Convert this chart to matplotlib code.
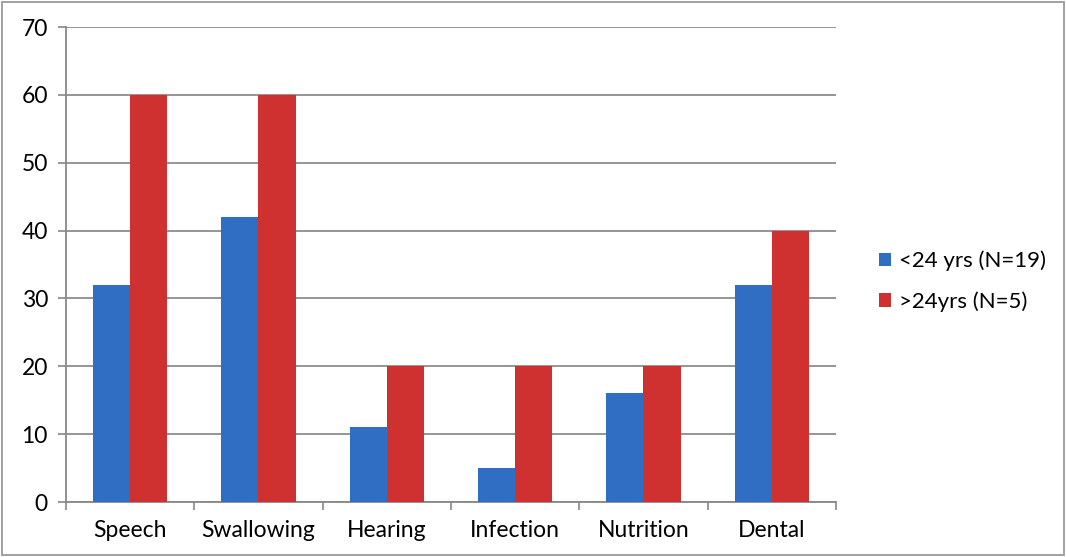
import numpy as np
import matplotlib.pyplot as plt
from matplotlib.patches import Rectangle

categories = ["Speech", "Swallowing", "Hearing", "Infection", "Nutrition", "Dental"]
under_24 = [32, 42, 11, 5, 16, 32]
over_24 = [60, 60, 20, 20, 20, 40]
series_labels = ["<24 yrs (N=19)", ">24yrs (N=5)"]
y_ticks = [0, 10, 20, 30, 40, 50, 60, 70]

plt.rcParams['font.family'] = ['Lato', 'DejaVu Sans']

fig = plt.figure(figsize=(10.66, 5.57), dpi=100)
ax = fig.add_axes([0.0619, 0.0987, 0.7223, 0.8528])

x = np.arange(len(categories))
w = 0.29
ax.bar(x - w / 2, under_24, w, color="#2f6ec3", label=series_labels[0], zorder=3)
ax.bar(x + w / 2, over_24, w, color="#cf3130", label=series_labels[1], zorder=3)

ax.set_xlim(-0.5, len(categories) - 0.5)
ax.set_ylim(0, 70)
ax.set_yticks(y_ticks)
ax.set_xticks(x)
ax.set_xticklabels(categories)
ax.tick_params(axis="x", length=0, pad=13, labelsize=16.5)
ax.tick_params(axis="y", length=6, width=1.2, color="#888888", pad=7, labelsize=16.5)

# category separators below the axis
ax.set_xticks(np.arange(-0.5, len(categories)), minor=True)
ax.tick_params(axis="x", which="minor", direction="out", length=6, width=1.2, color="#888888")

ax.grid(axis="y", color="#8c8c8c", linewidth=1.3, zorder=0)
for side in ["top", "right"]:
    ax.spines[side].set_visible(False)
for side in ["left", "bottom"]:
    ax.spines[side].set_color("#888888")
    ax.spines[side].set_linewidth(1.3)

fig.legend(loc="center left", bbox_to_anchor=(0.806, 0.495), frameon=False,
           fontsize=16, handlelength=0.55, handleheight=0.55, handletextpad=0.35,
           labelspacing=0.9)

# outer frame of the chart area
fig.patches.append(Rectangle((0.002, 0.004), 0.996, 0.992, transform=fig.transFigure,
                             fill=False, edgecolor="#9a9a9a", linewidth=1.3))

fig.savefig("out.png", dpi=100)
